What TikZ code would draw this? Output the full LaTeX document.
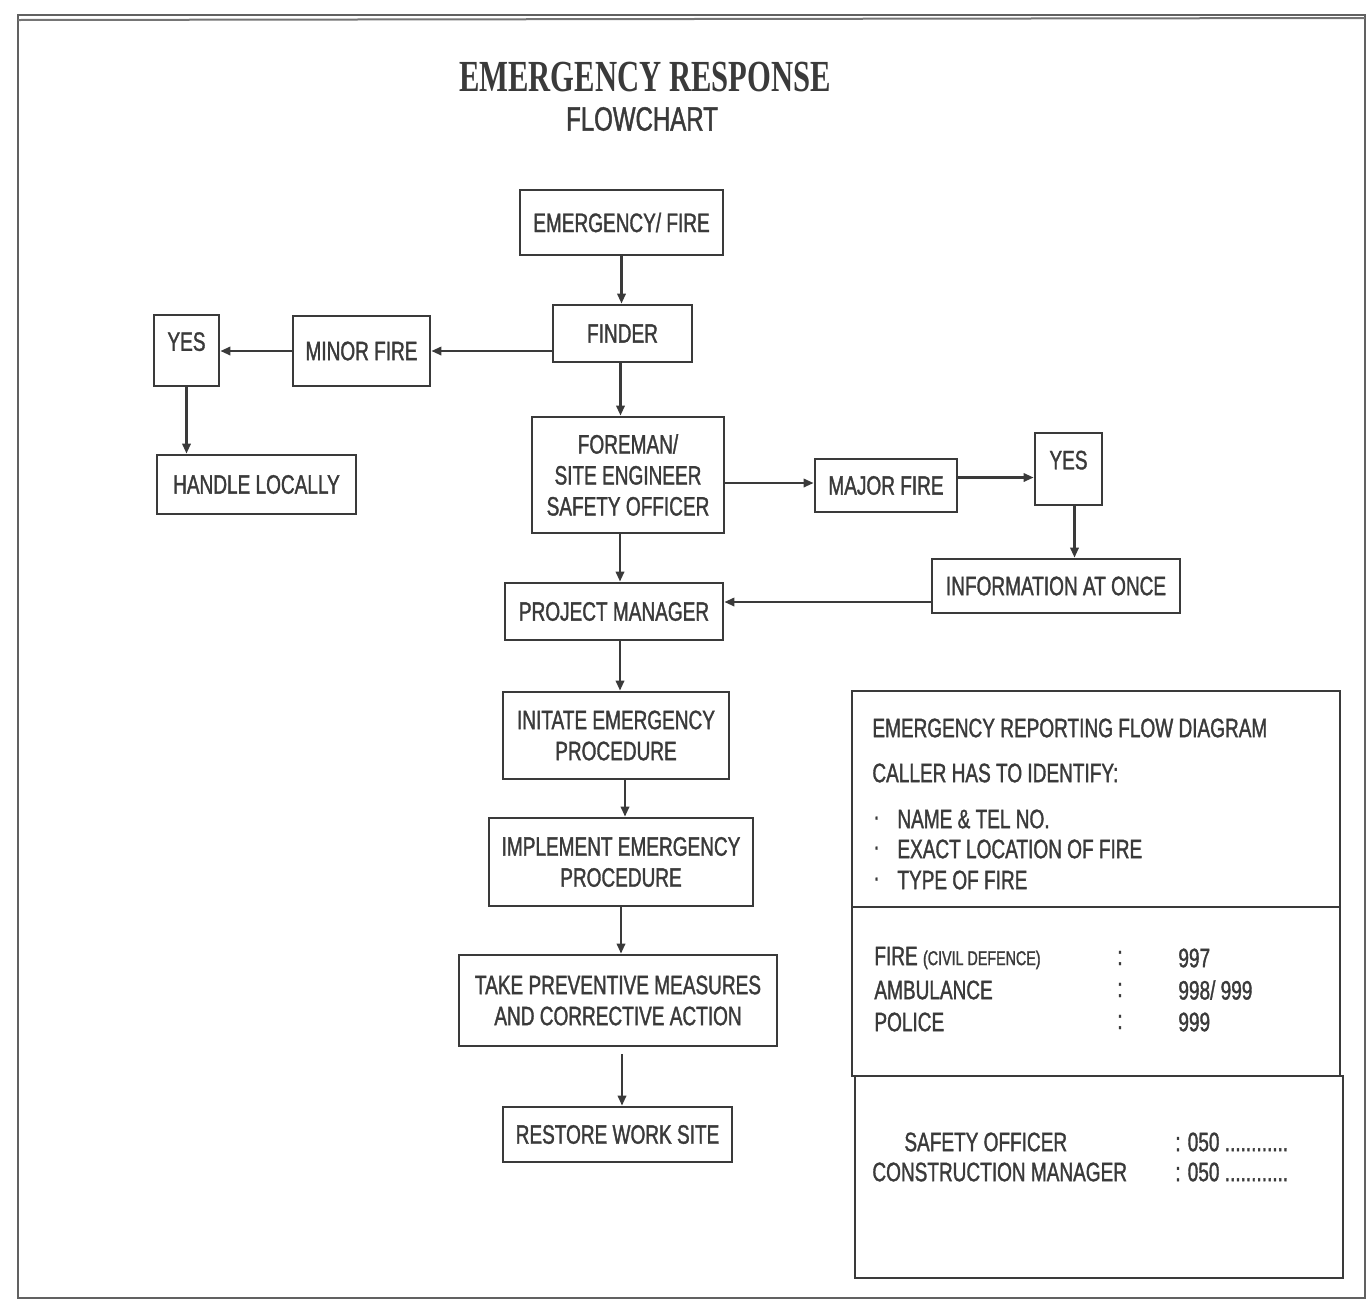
\documentclass[tikz,border=0pt]{standalone}
\usepackage{fontspec}
\usetikzlibrary{arrows.meta}
\newfontfamily\boxfont[FakeStretch=0.715,FakeBold=1.3]{Liberation Sans}
\newfontfamily\titlefont[FakeStretch=0.69]{Liberation Serif Bold}
\definecolor{ink}{HTML}{3A3A3A}
\definecolor{txt}{HTML}{3A3A3A}
\tikzset{
  box/.style={draw=ink, line width=1.4pt, fill=white, inner sep=2pt, align=center,
    text=txt, font=\boxfont\fontsize{13.3}{15.5}\selectfont},
  arr/.style={draw=ink, line width=1.1pt, -{Triangle[length=5pt,width=4.2pt]}},
  ptxt/.style={anchor=west, text=txt, inner sep=0pt, font=\boxfont\fontsize{13.3}{15.5}\selectfont},
  frame/.style={draw=ink!80, line width=1.2pt},
  panel/.style={draw=ink, line width=1.4pt}
}
\begin{document}
\begin{tikzpicture}[x=0.5pt,y=-0.5pt]
\useasboundingbox (0,0) rectangle (1370,1302);
% outer frame
\draw[frame] (18,15) rectangle (1365,1298);
\draw[draw=ink!70, line width=1pt] (18,20) -- (1365,18);
% titles
\node[text=txt, inner sep=0pt, font=\titlefont\fontsize{22.2}{24}\selectfont] (title) at (645,77) {EMERGENCY RESPONSE};
\node[text=txt, inner sep=0pt, font=\boxfont\fontsize{16.8}{18}\selectfont] (sub) at (642,119) {FLOWCHART};
% flow boxes
\node[box, minimum width=101.5pt, minimum height=32.5pt] (fire) at (621.5,222.5) {EMERGENCY/ FIRE};
\node[box, minimum width=69.5pt, minimum height=28.5pt] (finder) at (622.5,333.5) {FINDER};
\node[box, minimum width=68.5pt, minimum height=35pt] (minor) at (361.5,351) {MINOR FIRE};
\node[box, minimum width=32.5pt, minimum height=35.5pt, text depth=9pt] (yesL) at (186.5,350.5) {YES};
\node[box, minimum width=99.5pt, minimum height=29.5pt] (handle) at (256.5,484.5) {HANDLE LOCALLY};
\node[box, minimum width=96pt, minimum height=58pt] (foreman) at (628,475) {FOREMAN/\\SITE ENGINEER\\SAFETY OFFICER};
\node[box, minimum width=71pt, minimum height=26.5pt] (major) at (886,485.5) {MAJOR FIRE};
\node[box, minimum width=33.5pt, minimum height=36pt, text depth=9pt] (yesR) at (1068.5,469) {YES};
\node[box, minimum width=124pt, minimum height=27pt] (info) at (1056,586) {INFORMATION AT ONCE};
\node[box, minimum width=109pt, minimum height=28.5pt] (pm) at (614,611.5) {PROJECT MANAGER};
\node[box, minimum width=113pt, minimum height=43.5pt] (init) at (616,735.5) {INITATE EMERGENCY\\PROCEDURE};
\node[box, minimum width=132pt, minimum height=44pt] (impl) at (621,862) {IMPLEMENT EMERGENCY\\PROCEDURE};
\node[box, minimum width=159pt, minimum height=45.5pt] (take) at (618,1000.5) {TAKE PREVENTIVE MEASURES\\AND CORRECTIVE ACTION};
\node[box, minimum width=114.5pt, minimum height=27.5pt] (restore) at (617.5,1134.5) {RESTORE WORK SITE};
% connectors
\draw[arr] (fire.south) -- (fire.south |- finder.north);
\draw[arr] (finder.west |- minor.east) -- (minor.east);
\draw[arr] (minor.west) -- (minor.west -| yesL.east);
\draw[arr] (yesL.south) -- (yesL.south |- handle.north);
\draw[arr] ([xshift=-1pt]finder.south) -- ([xshift=-1pt]finder.south |- foreman.north);
\draw[arr] ([yshift=-4pt]foreman.east) -- ([yshift=-4pt]foreman.east -| major.west);
\draw[arr] ([yshift=4pt]major.east) -- ([yshift=4pt]major.east -| yesR.west);
\draw[arr] ([xshift=3pt]yesR.south) -- ([xshift=3pt]yesR.south |- info.north);
\draw[arr] ([yshift=-8pt]info.west) -- ([yshift=-8pt]info.west -| pm.east);
\draw[arr] ([xshift=3pt]pm.north |- foreman.south) -- ([xshift=3pt]pm.north);
\draw[arr] ([xshift=2pt]init.north |- pm.south) -- ([xshift=2pt]init.north);
\draw[arr] ([xshift=2pt]impl.north |- init.south) -- ([xshift=2pt]impl.north);
\draw[arr] (impl.south) -- (impl.south |- take.north);
\draw[arr] ([xshift=2pt,yshift=-3.5pt]take.south) -- ([xshift=2pt]take.south |- restore.north);
% reporting panel
\draw[panel] (852,691) rectangle (1340,907);
\draw[panel] (852,907) rectangle (1340,1076);
\draw[panel] (855,1076) rectangle (1343,1278);
\node[ptxt] (p1) at (872,728) {EMERGENCY REPORTING FLOW DIAGRAM};
\node[ptxt] (p2) at (872,773) {CALLER HAS TO IDENTIFY:};
\foreach \yy/\tt [count=\i] in {819/NAME \& TEL NO., 849/EXACT LOCATION OF FIRE, 880/TYPE OF FIRE}{
  \node[ptxt] (b\i) at (873,\yy+2) {\textperiodcentered};
  \node[ptxt] (l\i) at (897,\yy) {\tt};
}
\node[ptxt] (f1) at (874,958) {FIRE {\fontsize{10}{12}\selectfont (CIVIL DEFENCE)}};
\node[ptxt] (f2) at (874,990) {AMBULANCE};
\node[ptxt] (f3) at (874,1022) {POLICE};
\node[ptxt] (c1) at (1117,958) {:};
\node[ptxt] (c2) at (1117,990) {:};
\node[ptxt] (c3) at (1117,1022) {:};
\node[ptxt] (n1) at (1178,958) {997};
\node[ptxt] (n2) at (1178,990) {998/ 999};
\node[ptxt] (n3) at (1178,1022) {999};
\node[ptxt] (s1) at (904,1142) {SAFETY OFFICER};
\node[ptxt] (s2) at (872,1172) {CONSTRUCTION MANAGER};
\node[ptxt] (t1) at (1175,1142) {: 050 ............};
\node[ptxt] (t2) at (1175,1172) {: 050 ............};
\end{tikzpicture}
\end{document}
